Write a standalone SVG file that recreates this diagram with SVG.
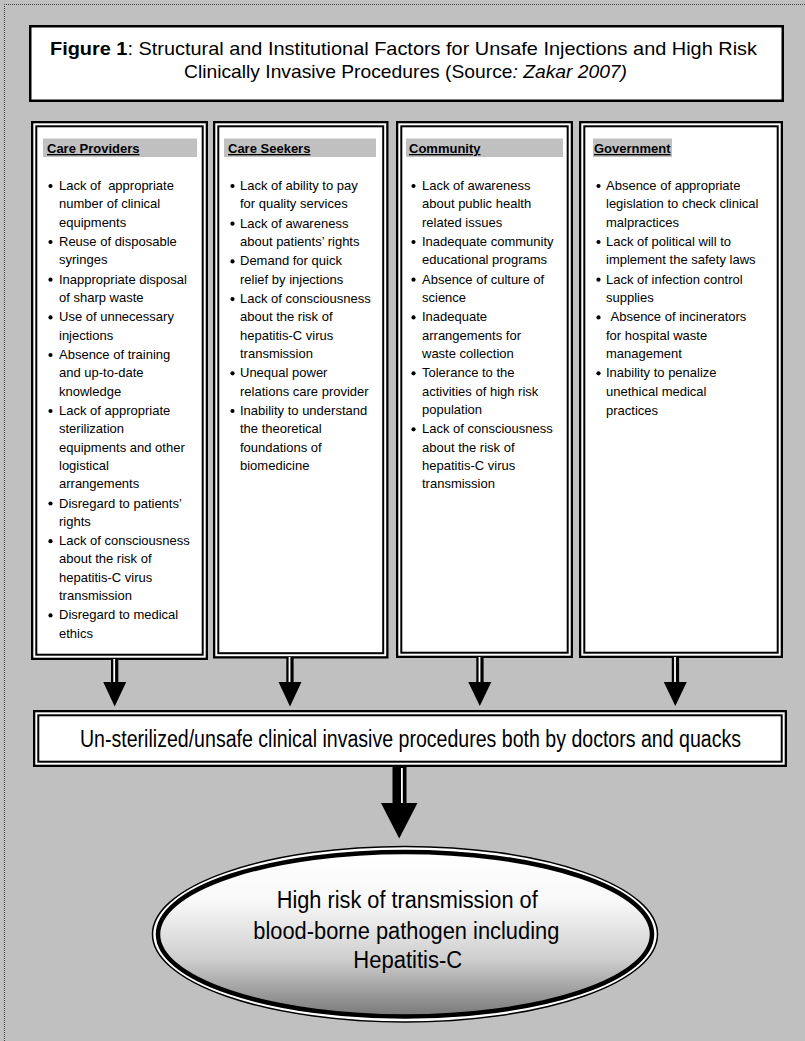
<svg xmlns="http://www.w3.org/2000/svg" width="805" height="1041" viewBox="0 0 805 1041">
<style>
.bg{fill:#c0c0c0}
.frame{fill:none;stroke:#404040;stroke-width:1;stroke-dasharray:1 1}
.box{fill:#ffffff;stroke:#000;stroke-width:2.5}
.outer{fill:#ffffff;stroke:#000;stroke-width:2.3}
.inner{fill:none;stroke:#000;stroke-width:2}
.hbar{fill:#c0c0c0}
.hd{font-family:"Liberation Sans",Arial,sans-serif;font-size:13px;font-weight:bold;text-decoration:underline;fill:#000}
.it{font-family:"Liberation Sans",Arial,sans-serif;font-size:13px;fill:#000}
.dot{fill:#000}
.cond{font-family:"Liberation Sans Narrow","Liberation Sans",Arial,sans-serif;fill:#000}
.ttl{font-size:18.5px}
.big{font-size:23px}
.mid{font-size:20px}
.stem{fill:#000}
.gap{fill:#fff}
.head{fill:#000}
</style>
<defs>
<linearGradient id="eg" x1="0" y1="0" x2="0" y2="1">
<stop offset="0" stop-color="#ffffff"/>
<stop offset="0.3" stop-color="#f8f8f8"/>
<stop offset="0.65" stop-color="#cfcfcf"/>
<stop offset="1" stop-color="#787878"/>
</linearGradient>
</defs>
<rect class="bg" x="0" y="0" width="805" height="1041"/>
<path class="frame" d="M4.5 1041 V4.5 H805"/>

<g id="title">
<rect class="box" x="30.25" y="26.25" width="752.5" height="74.5"/>
<text class="cond ttl" x="50" y="55" textLength="707" lengthAdjust="spacingAndGlyphs"><tspan font-weight="bold">Figure 1</tspan>: Structural and Institutional Factors for Unsafe Injections and High Risk</text>
<text class="cond ttl" x="184" y="77.5" textLength="443" lengthAdjust="spacingAndGlyphs">Clinically Invasive Procedures (Source<tspan font-style="italic">: Zakar 2007)</tspan></text>
</g>

<g id="col-care-providers">
<rect class="outer" x="32.15" y="122.15" width="174.7" height="536.7"/>
<rect class="inner" x="36.3" y="126.3" width="166.4" height="528.4"/>
<rect class="hbar" x="43" y="138.5" width="154" height="18.5"/>
<text class="hd" x="47" y="153">Care Providers</text>
<g class="it">
<circle class="dot" cx="50.5" cy="186" r="2.1"/><text x="59" y="190">Lack of&#160; appropriate</text>
<text x="59" y="208.3">number of clinical</text>
<text x="59" y="226.5">equipments</text>
<circle class="dot" cx="50.5" cy="242" r="2.1"/><text x="59" y="246">Reuse of disposable</text>
<text x="59" y="264.2">syringes</text>
<circle class="dot" cx="50.5" cy="279.7" r="2.1"/><text x="59" y="283.7">Inappropriate disposal</text>
<text x="59" y="301.9">of sharp waste</text>
<circle class="dot" cx="50.5" cy="317.4" r="2.1"/><text x="59" y="321.4">Use of unnecessary</text>
<text x="59" y="339.6">injections</text>
<circle class="dot" cx="50.5" cy="355" r="2.1"/><text x="59" y="359">Absence of training</text>
<text x="59" y="377.3">and up-to-date</text>
<text x="59" y="395.6">knowledge</text>
<circle class="dot" cx="50.5" cy="411" r="2.1"/><text x="59" y="415">Lack of appropriate</text>
<text x="59" y="433.3">sterilization</text>
<text x="59" y="451.5">equipments and other</text>
<text x="59" y="469.8">logistical</text>
<text x="59" y="488">arrangements</text>
<circle class="dot" cx="50.5" cy="503.5" r="2.1"/><text x="59" y="507.5">Disregard to patients’</text>
<text x="59" y="525.7">rights</text>
<circle class="dot" cx="50.5" cy="541.2" r="2.1"/><text x="59" y="545.2">Lack of consciousness</text>
<text x="59" y="563.4">about the risk of</text>
<text x="59" y="581.7">hepatitis-C virus</text>
<text x="59" y="599.9">transmission</text>
<circle class="dot" cx="50.5" cy="615.4" r="2.1"/><text x="59" y="619.4">Disregard to medical</text>
<text x="59" y="637.6">ethics</text>
</g>
</g>

<g id="col-care-seekers">
<rect class="outer" x="214.15" y="122.15" width="173.2" height="535.2"/>
<rect class="inner" x="218.3" y="126.3" width="164.9" height="526.9"/>
<rect class="hbar" x="224" y="138.5" width="152" height="18.5"/>
<text class="hd" x="228" y="153">Care Seekers</text>
<g class="it">
<circle class="dot" cx="232.5" cy="186" r="2.1"/><text x="240" y="190">Lack of ability to pay</text>
<text x="240" y="208.3">for quality services</text>
<circle class="dot" cx="232.5" cy="223.7" r="2.1"/><text x="240" y="227.7">Lack of awareness</text>
<text x="240" y="246">about patients’ rights</text>
<circle class="dot" cx="232.5" cy="261.4" r="2.1"/><text x="240" y="265.4">Demand for quick</text>
<text x="240" y="283.7">relief by injections</text>
<circle class="dot" cx="232.5" cy="299.1" r="2.1"/><text x="240" y="303.1">Lack of consciousness</text>
<text x="240" y="321.4">about the risk of</text>
<text x="240" y="339.6">hepatitis-C virus</text>
<text x="240" y="357.9">transmission</text>
<circle class="dot" cx="232.5" cy="373.3" r="2.1"/><text x="240" y="377.3">Unequal power</text>
<text x="240" y="395.6">relations care provider</text>
<circle class="dot" cx="232.5" cy="411" r="2.1"/><text x="240" y="415">Inability to understand</text>
<text x="240" y="433.3">the theoretical</text>
<text x="240" y="451.5">foundations of</text>
<text x="240" y="469.8">biomedicine</text>
</g>
</g>

<g id="col-community">
<rect class="outer" x="397.15" y="122.15" width="174.7" height="534.7"/>
<rect class="inner" x="401.3" y="126.3" width="166.4" height="526.4"/>
<rect class="hbar" x="406" y="138.5" width="157" height="18.5"/>
<text class="hd" x="409" y="153">Community</text>
<g class="it">
<circle class="dot" cx="413.5" cy="186" r="2.1"/><text x="422" y="190">Lack of awareness</text>
<text x="422" y="208.3">about public health</text>
<text x="422" y="226.5">related issues</text>
<circle class="dot" cx="413.5" cy="242" r="2.1"/><text x="422" y="246">Inadequate community</text>
<text x="422" y="264.2">educational programs</text>
<circle class="dot" cx="413.5" cy="279.7" r="2.1"/><text x="422" y="283.7">Absence of culture of</text>
<text x="422" y="301.9">science</text>
<circle class="dot" cx="413.5" cy="317.4" r="2.1"/><text x="422" y="321.4">Inadequate</text>
<text x="422" y="339.6">arrangements for</text>
<text x="422" y="357.9">waste collection</text>
<circle class="dot" cx="413.5" cy="373.3" r="2.1"/><text x="422" y="377.3">Tolerance to the</text>
<text x="422" y="395.6">activities of high risk</text>
<text x="422" y="413.8">population</text>
<circle class="dot" cx="413.5" cy="429.3" r="2.1"/><text x="422" y="433.3">Lack of consciousness</text>
<text x="422" y="451.5">about the risk of</text>
<text x="422" y="469.8">hepatitis-C virus</text>
<text x="422" y="488">transmission</text>
</g>
</g>

<g id="col-government">
<rect class="outer" x="580.15" y="122.15" width="201.7" height="534.7"/>
<rect class="inner" x="584.3" y="126.3" width="193.4" height="526.4"/>
<rect class="hbar" x="593" y="138.5" width="79" height="18.5"/>
<text class="hd" x="594" y="153">Government</text>
<g class="it">
<circle class="dot" cx="598.5" cy="186" r="2.1"/><text x="606" y="190">Absence of appropriate</text>
<text x="606" y="208.3">legislation to check clinical</text>
<text x="606" y="226.5">malpractices</text>
<circle class="dot" cx="598.5" cy="242" r="2.1"/><text x="606" y="246">Lack of political will to</text>
<text x="606" y="264.2">implement the safety laws</text>
<circle class="dot" cx="598.5" cy="279.7" r="2.1"/><text x="606" y="283.7">Lack of infection control</text>
<text x="606" y="301.9">supplies</text>
<circle class="dot" cx="598.5" cy="317.4" r="2.1"/><text x="610.5" y="321.4">Absence of incinerators</text>
<text x="606" y="339.6">for hospital waste</text>
<text x="606" y="357.9">management</text>
<circle class="dot" cx="598.5" cy="373.3" r="2.1"/><text x="606" y="377.3">Inability to penalize</text>
<text x="606" y="395.6">unethical medical</text>
<text x="606" y="414.5">practices</text>
</g>
</g>

<g id="connectors">
<rect class="stem" x="111" y="659" width="7.3" height="24"/><rect class="gap" x="113.3" y="659" width="1.8" height="24"/>
<polygon class="head" points="103.2,682 126.2,682 114.7,706.5"/>
<rect class="stem" x="286.3" y="657" width="7.3" height="26"/><rect class="gap" x="288.6" y="657" width="1.8" height="26"/>
<polygon class="head" points="278.5,682 301.5,682 290,706.5"/>
<rect class="stem" x="476.3" y="657" width="7.3" height="26"/><rect class="gap" x="478.6" y="657" width="1.8" height="26"/>
<polygon class="head" points="468.3,682 491.3,682 479.8,706"/>
<rect class="stem" x="671.8" y="657" width="7.3" height="26"/><rect class="gap" x="674.1" y="657" width="1.8" height="26"/>
<polygon class="head" points="663.8,682 686.8,682 675.3,706"/>
<rect class="stem" x="392.5" y="766" width="14" height="38"/><rect class="gap" x="401" y="768" width="1.8" height="36"/>
<polygon class="head" points="381,803 417.5,803 399.2,838.5"/>
</g>

<g id="procedures">
<rect class="outer" x="34.15" y="711.15" width="751.7" height="54.7"/>
<rect class="inner" x="38.3" y="715.3" width="743.4" height="46.4"/>
<text class="cond mid" x="80" y="0" transform="translate(0,746.5) scale(1,1.15)" textLength="661" lengthAdjust="spacingAndGlyphs">Un-sterilized/unsafe clinical invasive procedures both by doctors and quacks</text>
</g>

<g id="outcome">
<ellipse cx="405" cy="934.2" rx="252.5" ry="87.8" fill="#ffffff" stroke="#000" stroke-width="1.5"/>
<ellipse cx="405" cy="934.2" rx="247" ry="82.3" fill="url(#eg)" stroke="#000" stroke-width="4.5"/>
<text class="cond big" x="276.7" y="908" textLength="261" lengthAdjust="spacingAndGlyphs">High risk of transmission of</text>
<text class="cond big" x="253.3" y="939" textLength="306" lengthAdjust="spacingAndGlyphs">blood-borne pathogen including</text>
<text class="cond big" x="353.3" y="968.3" textLength="109" lengthAdjust="spacingAndGlyphs">Hepatitis-C</text>
</g>
</svg>
